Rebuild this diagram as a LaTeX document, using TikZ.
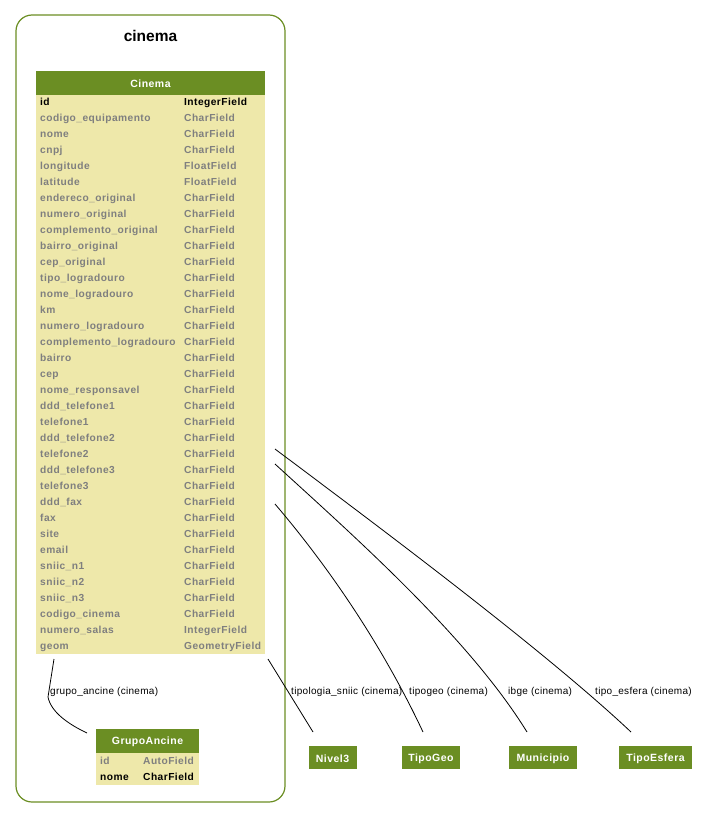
\documentclass[tikz,border=0pt]{standalone}
\usepackage{fontspec}
\setmainfont{Liberation Sans}
\newfontfamily\fieldfont[LetterSpace=4.5]{Liberation Sans}
\newfontfamily\labelfont[LetterSpace=3]{Liberation Sans}
\usetikzlibrary{calc}
\definecolor{modelgreen}{HTML}{6B8E23}
\definecolor{khakibg}{HTML}{EEE8AA}
\definecolor{fieldgray}{HTML}{7F7F7F}
\begin{document}
\begin{tikzpicture}[x=1pt,y=-1pt,
  field/.style={anchor=west, inner sep=0pt, text=fieldgray,
    font=\fieldfont\fontsize{10.2}{12}\selectfont\bfseries, text height=7.5pt, text depth=2pt},
  keyfield/.style={field, text=black},
  tablehead/.style={fill=modelgreen, text=white, inner sep=0pt,
    font=\fieldfont\fontsize{10.5}{12}\selectfont\bfseries},
  tablebody/.style={fill=khakibg, inner sep=0pt},
  relbox/.style={fill=modelgreen, text=white, inner sep=0pt, minimum height=23pt,
    font=\fieldfont\fontsize{10.5}{12}\selectfont\bfseries},
  reledge/.style={draw=black, line width=0.8pt},
  rellabel/.style={anchor=west, inner sep=0pt, font=\labelfont\fontsize{10}{12}\selectfont,
    text height=7.5pt, text depth=2pt}]
\useasboundingbox (0,0) rectangle (705,817);

% app cluster
\node[draw=modelgreen, line width=1.2pt, rounded corners=16pt, minimum width=269pt,
  minimum height=787pt, inner sep=0pt] (cluster) at (150.5,408.5) {};
\node[font=\fontsize{15.5}{18}\selectfont\bfseries, inner sep=0pt] (clustertitle) at (150.5,35.5) {cinema};

% Cinema model
\node[tablebody, minimum width=229pt, minimum height=559pt] (cinema) at (150.5,374.5) {};
\node[tablehead, minimum width=229pt, minimum height=24pt] (cinemahead) at (150.5,83) {};
\node[tablehead] (cinemaname) at (150.5,84) {Cinema};
\node[keyfield] (cn0) at (40,102.5) {id};
\node[keyfield] (ct0) at (184,102.5) {IntegerField};
\foreach \n/\t [count=\i] in {codigo\_equipamento/CharField, nome/CharField, cnpj/CharField,
  longitude/FloatField, latitude/FloatField, endereco\_original/CharField,
  numero\_original/CharField, complemento\_original/CharField, bairro\_original/CharField,
  cep\_original/CharField, tipo\_logradouro/CharField, nome\_logradouro/CharField,
  km/CharField, numero\_logradouro/CharField, complemento\_logradouro/CharField,
  bairro/CharField, cep/CharField, nome\_responsavel/CharField, ddd\_telefone1/CharField,
  telefone1/CharField, ddd\_telefone2/CharField, telefone2/CharField,
  ddd\_telefone3/CharField, telefone3/CharField, ddd\_fax/CharField, fax/CharField,
  site/CharField, email/CharField, sniic\_n1/CharField, sniic\_n2/CharField,
  sniic\_n3/CharField, codigo\_cinema/CharField, numero\_salas/IntegerField,
  geom/GeometryField}{
  \node[field] (cn\i) at (40,102.5+16*\i) {\n};
  \node[field] (ct\i) at (184,102.5+16*\i) {\t};
}

% GrupoAncine model
\node[tablebody, minimum width=103pt, minimum height=32pt] (grupo) at (147.5,769) {};
\node[tablehead, minimum width=103pt, minimum height=24pt] (grupohead) at (147.5,741) {};
\node[tablehead] (gruponame) at (147.5,742) {GrupoAncine};
\node[field] (gn0) at (100,762) {id};
\node[field] (gt0) at (143,762) {AutoField};
\node[keyfield] (gn1) at (100,778) {nome};
\node[keyfield] (gt1) at (143,778) {CharField};

% related models outside the app
\node[relbox, minimum width=48pt] (nivel) at (332.5,757.5) {};
\node[relbox, minimum width=58pt] (tipogeo) at (431,757.5) {};
\node[relbox, minimum width=68pt] (municipio) at (543,757.5) {};
\node[relbox, minimum width=73pt] (tipoesfera) at (655.5,757.5) {};
\node[relbox, minimum height=0pt] (nivelname) at (332.5,758.5) {Nivel3};
\node[relbox, minimum height=0pt] (tipogeoname) at (431,758.5) {TipoGeo};
\node[relbox, minimum height=0pt] (municipioname) at (543,758.5) {Municipio};
\node[relbox, minimum height=0pt] (tipoesferaname) at (655.5,758.5) {TipoEsfera};

% relation end points
\coordinate (gs) at (54,659);
\coordinate (gk) at (48,697);
\coordinate (ge) at (87,733);
\coordinate (ns) at (268,659);
\coordinate (ne) at (313,732);
\coordinate (ts) at (275,504);
\coordinate (te) at (423,732);
\coordinate (ms) at (275,464);
\coordinate (me) at (527,732);
\coordinate (es) at (275,449);
\coordinate (ee) at (631,732);

% relations
\draw[reledge] (gs) -- (gk) .. controls (51,712) and (68,724) .. (ge);
\draw[reledge] (ns) -- (ne);
\draw[reledge] (ts) .. controls (333,572) and (385,651) .. (te);
\draw[reledge] (ms) .. controls (356,538) and (469,638) .. (me);
\draw[reledge] (es) .. controls (371,521) and (543,649) .. (ee);

\node[rellabel] (lg) at (50,692) {grupo\_ancine (cinema)};
\node[rellabel] (ln) at (291,692) {tipologia\_sniic (cinema)};
\node[rellabel] (lt) at (409,692) {tipogeo (cinema)};
\node[rellabel] (lm) at (508,692) {ibge (cinema)};
\node[rellabel] (le) at (595,692) {tipo\_esfera (cinema)};
\end{tikzpicture}
\end{document}
